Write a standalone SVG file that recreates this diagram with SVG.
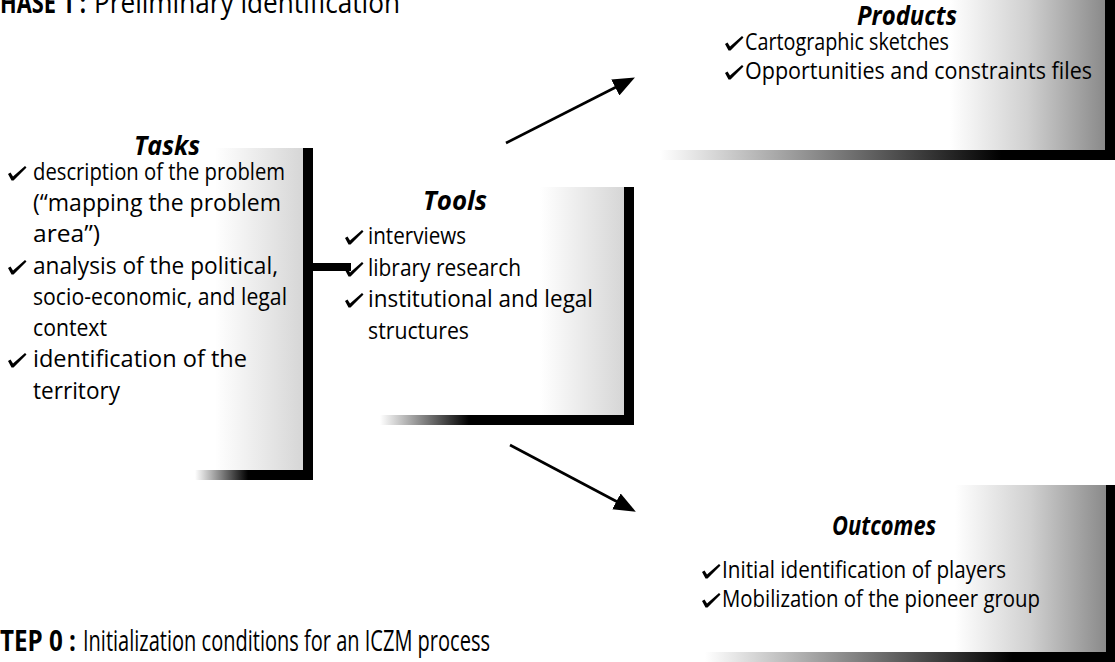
<svg xmlns="http://www.w3.org/2000/svg" width="1115" height="662" viewBox="0 0 1115 662">
<style>
.t{font-family:"Open Sans","Liberation Sans",sans-serif;font-size:24px;fill:#000}
.h{font-family:"Open Sans","Liberation Sans",sans-serif;font-size:27px;font-weight:bold;font-style:italic;text-anchor:middle;fill:#000}
.cap{font-family:"Open Sans","Liberation Sans",sans-serif;font-size:29px;fill:#000}
.capb{font-family:"Open Sans","Liberation Sans",sans-serif;font-size:29px;font-weight:bold;fill:#000}
.bar{fill:#000}
.conn{stroke:#000;stroke-width:2.6;fill:none}
</style>
<defs>
<linearGradient id="shadeL" x1="0" y1="0" x2="1" y2="0">
<stop offset="0" stop-color="#fff"/><stop offset="1" stop-color="#d6d6d6"/>
</linearGradient>
<linearGradient id="shadeD" x1="0" y1="0" x2="1" y2="0">
<stop offset="0" stop-color="#fff"/><stop offset="0.5" stop-color="#d0d0d0"/><stop offset="1" stop-color="#8a8a8a"/>
</linearGradient>
<linearGradient id="barA" x1="0" y1="0" x2="1" y2="0">
<stop offset="0" stop-color="#fff"/><stop offset="0.45" stop-color="#000"/><stop offset="1" stop-color="#000"/>
</linearGradient>
<linearGradient id="barT" x1="0" y1="0" x2="1" y2="0">
<stop offset="0" stop-color="#fff"/><stop offset="0.35" stop-color="#000"/><stop offset="1" stop-color="#000"/>
</linearGradient>
<linearGradient id="barB" x1="0" y1="0" x2="1" y2="0">
<stop offset="0" stop-color="#fff"/><stop offset="0.55" stop-color="#444"/><stop offset="0.75" stop-color="#000"/><stop offset="1" stop-color="#000"/>
</linearGradient>
<marker id="ah" markerUnits="userSpaceOnUse" markerWidth="22" markerHeight="18" viewBox="0 0 22 18" refX="12" refY="9" orient="auto">
<path d="M0,0 L22,9 L0,18 z" fill="#000"/>
</marker>
<path id="chk" d="M0,-6 L2.5,-7.5 L5,-3.5 L17,-14 L18.5,-12.5 L5.5,0.5 L3.5,0.5 z" fill="#000"/>
</defs>

<g id="captions">
<text class="capb" x="0" y="13" textLength="86" lengthAdjust="spacingAndGlyphs">HASE 1 :</text>
<text class="cap" x="94" y="13" textLength="306" lengthAdjust="spacingAndGlyphs">Preliminary identification</text>
<text class="capb" x="0" y="651" textLength="76" lengthAdjust="spacingAndGlyphs">TEP 0 :</text>
<text class="cap" x="83" y="651" textLength="407" lengthAdjust="spacingAndGlyphs">Initialization conditions for an ICZM process</text>
</g>

<g id="connectors">
<rect class="bar" x="313" y="263" width="38" height="8"/>
<line class="conn" x1="506" y1="143" x2="626" y2="82" marker-end="url(#ah)"/>
<line class="conn" x1="510" y1="445" x2="627" y2="507" marker-end="url(#ah)"/>
</g>

<g id="tasks">
<rect x="215" y="148" width="88" height="322" fill="url(#shadeL)"/>
<rect class="bar" x="303" y="148" width="10" height="332"/>
<rect x="195" y="470" width="118" height="10" fill="url(#barA)"/>
<text class="h" x="167" y="155" textLength="66" lengthAdjust="spacingAndGlyphs">Tasks</text>
<use href="#chk" x="8" y="180"/>
<text class="t" x="33" y="180" textLength="252" lengthAdjust="spacingAndGlyphs">description of the problem</text>
<text class="t" x="33" y="211" textLength="248" lengthAdjust="spacingAndGlyphs">(“mapping the problem</text>
<text class="t" x="33" y="242" textLength="67" lengthAdjust="spacingAndGlyphs">area”)</text>
<use href="#chk" x="8" y="274"/>
<text class="t" x="33" y="274" textLength="245" lengthAdjust="spacingAndGlyphs">analysis of the political,</text>
<text class="t" x="33" y="305" textLength="254" lengthAdjust="spacingAndGlyphs">socio-economic, and legal</text>
<text class="t" x="33" y="336" textLength="74" lengthAdjust="spacingAndGlyphs">context</text>
<use href="#chk" x="8" y="367"/>
<text class="t" x="33" y="367" textLength="214" lengthAdjust="spacingAndGlyphs">identification of the</text>
<text class="t" x="33" y="399" textLength="87" lengthAdjust="spacingAndGlyphs">territory</text>
</g>

<g id="tools">
<rect x="540" y="187" width="84" height="228" fill="url(#shadeL)"/>
<rect class="bar" x="624" y="187" width="10" height="238"/>
<rect x="380" y="415" width="254" height="10" fill="url(#barT)"/>
<text class="h" x="455" y="210" textLength="64" lengthAdjust="spacingAndGlyphs">Tools</text>
<use href="#chk" x="345" y="244"/>
<text class="t" x="368" y="244" textLength="98" lengthAdjust="spacingAndGlyphs">interviews</text>
<use href="#chk" x="345" y="276"/>
<text class="t" x="368" y="276" textLength="153" lengthAdjust="spacingAndGlyphs">library research</text>
<use href="#chk" x="345" y="307"/>
<text class="t" x="368" y="307" textLength="225" lengthAdjust="spacingAndGlyphs">institutional and legal</text>
<text class="t" x="368" y="339" textLength="101" lengthAdjust="spacingAndGlyphs">structures</text>
</g>

<g id="products">
<rect x="950" y="0" width="155" height="150" fill="url(#shadeD)"/>
<rect class="bar" x="1105" y="0" width="10" height="160"/>
<rect x="660" y="150" width="455" height="10" fill="url(#barB)"/>
<text class="h" x="907" y="25" textLength="100" lengthAdjust="spacingAndGlyphs">Products</text>
<use href="#chk" x="725" y="50"/>
<text class="t" x="745" y="50" textLength="204" lengthAdjust="spacingAndGlyphs">Cartographic sketches</text>
<use href="#chk" x="725" y="79"/>
<text class="t" x="745" y="79" textLength="347" lengthAdjust="spacingAndGlyphs">Opportunities and constraints files</text>
</g>

<g id="outcomes">
<rect x="955" y="485" width="151" height="167" fill="url(#shadeD)"/>
<rect class="bar" x="1106" y="485" width="9" height="177"/>
<rect x="705" y="652" width="410" height="10" fill="url(#barB)"/>
<text class="h" x="884" y="535" textLength="104" lengthAdjust="spacingAndGlyphs">Outcomes</text>
<use href="#chk" x="702" y="578"/>
<text class="t" x="722" y="578" textLength="284" lengthAdjust="spacingAndGlyphs">Initial identification of players</text>
<use href="#chk" x="702" y="607"/>
<text class="t" x="722" y="607" textLength="318" lengthAdjust="spacingAndGlyphs">Mobilization of the pioneer group</text>
</g>
</svg>
